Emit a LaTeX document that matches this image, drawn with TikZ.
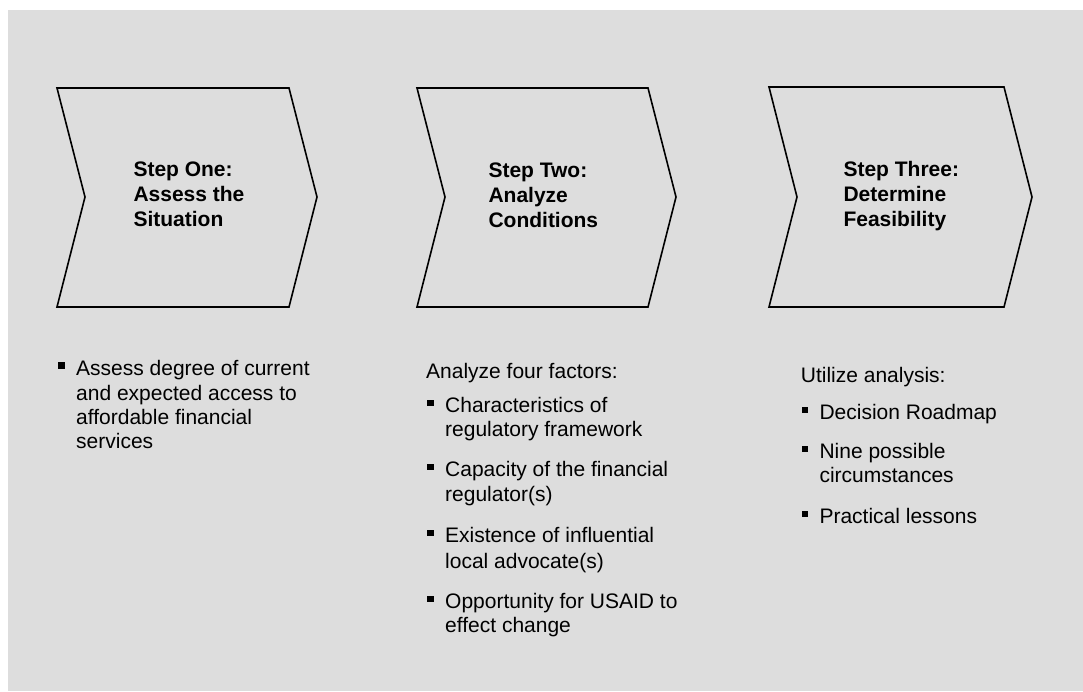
\documentclass[tikz,border=0pt]{standalone}
\usepackage{fontspec}
\setmainfont{Liberation Sans}
\usetikzlibrary{calc}
\definecolor{bg}{RGB}{221,221,221}
\newcommand\bsq[1]{\fill[black] ($(#1.base west)+(-17.7,-12.6)$) rectangle ++(6.3,6.3);}
\begin{document}
\begin{tikzpicture}[x=1pt,y=-1pt,
  chev/.style={draw=black,line width=1.6pt,fill=bg,line join=miter},
  ttl/.style={anchor=base west,inner sep=0pt,font=\fontsize{21}{25}\selectfont\bfseries},
  txt/.style={anchor=base west,inner sep=0pt,font=\fontsize{21}{25}\selectfont}]
\useasboundingbox (0,0) rectangle (1083,691);
\fill[bg] (8,10) rectangle (1083,691);

% chevrons
\draw[chev] (57,88) -- (289,88) -- (317,197) -- (289,307) -- (57,307) -- (85,197) -- cycle;
\draw[chev] (417,88) -- (648,88) -- (676,197) -- (648,307) -- (417,307) -- (445,197) -- cycle;
\draw[chev] (769,87) -- (1004,87) -- (1032,197) -- (1004,307) -- (769,307) -- (797,197) -- cycle;

% titles
\node[ttl] (t1a) at (133.3,176) {Step One:};
\node[ttl] (t1b) at (133.3,201) {Assess the};
\node[ttl] (t1c) at (133.3,226) {Situation};
\node[ttl] (t2a) at (488.3,177) {Step Two:};
\node[ttl] (t2b) at (488.3,202) {Analyze};
\node[ttl] (t2c) at (488.3,227) {Conditions};
\node[ttl] (t3a) at (843.3,176) {Step Three:};
\node[ttl] (t3b) at (843.3,201) {Determine};
\node[ttl] (t3c) at (843.3,226) {Feasibility};

% column 1
\node[txt] (a1) at (76,375) {Assess degree of current};
\node[txt] (a2) at (76,400) {and expected access to};
\node[txt] (a3) at (76,424.3) {affordable financial};
\node[txt] (a4) at (76,448.3) {services};
\bsq{a1}

% column 2
\node[txt] (b0) at (426,378.3) {Analyze four factors:};
\node[txt] (b1) at (445,412.7) {Characteristics of};
\node[txt] (b1x) at (445,436.7) {regulatory framework};
\node[txt] (b2) at (445,476.7) {Capacity of the financial};
\node[txt] (b2x) at (445,501.7) {regulator(s)};
\node[txt] (b3) at (445,542.7) {Existence of influential};
\node[txt] (b3x) at (445,568.3) {local advocate(s)};
\node[txt] (b4) at (445,608.3) {Opportunity for USAID to};
\node[txt] (b4x) at (445,632.3) {effect change};
\bsq{b1}\bsq{b2}\bsq{b3}\bsq{b4}

% column 3
\node[txt] (c0) at (800.7,382.7) {Utilize analysis:};
\node[txt] (c1) at (819.3,419.3) {Decision Roadmap};
\node[txt] (c2) at (819.3,458.3) {Nine possible};
\node[txt] (c2x) at (819.3,482.7) {circumstances};
\node[txt] (c3) at (819.3,523.3) {Practical lessons};
\bsq{c1}\bsq{c2}\bsq{c3}
\end{tikzpicture}
\end{document}
